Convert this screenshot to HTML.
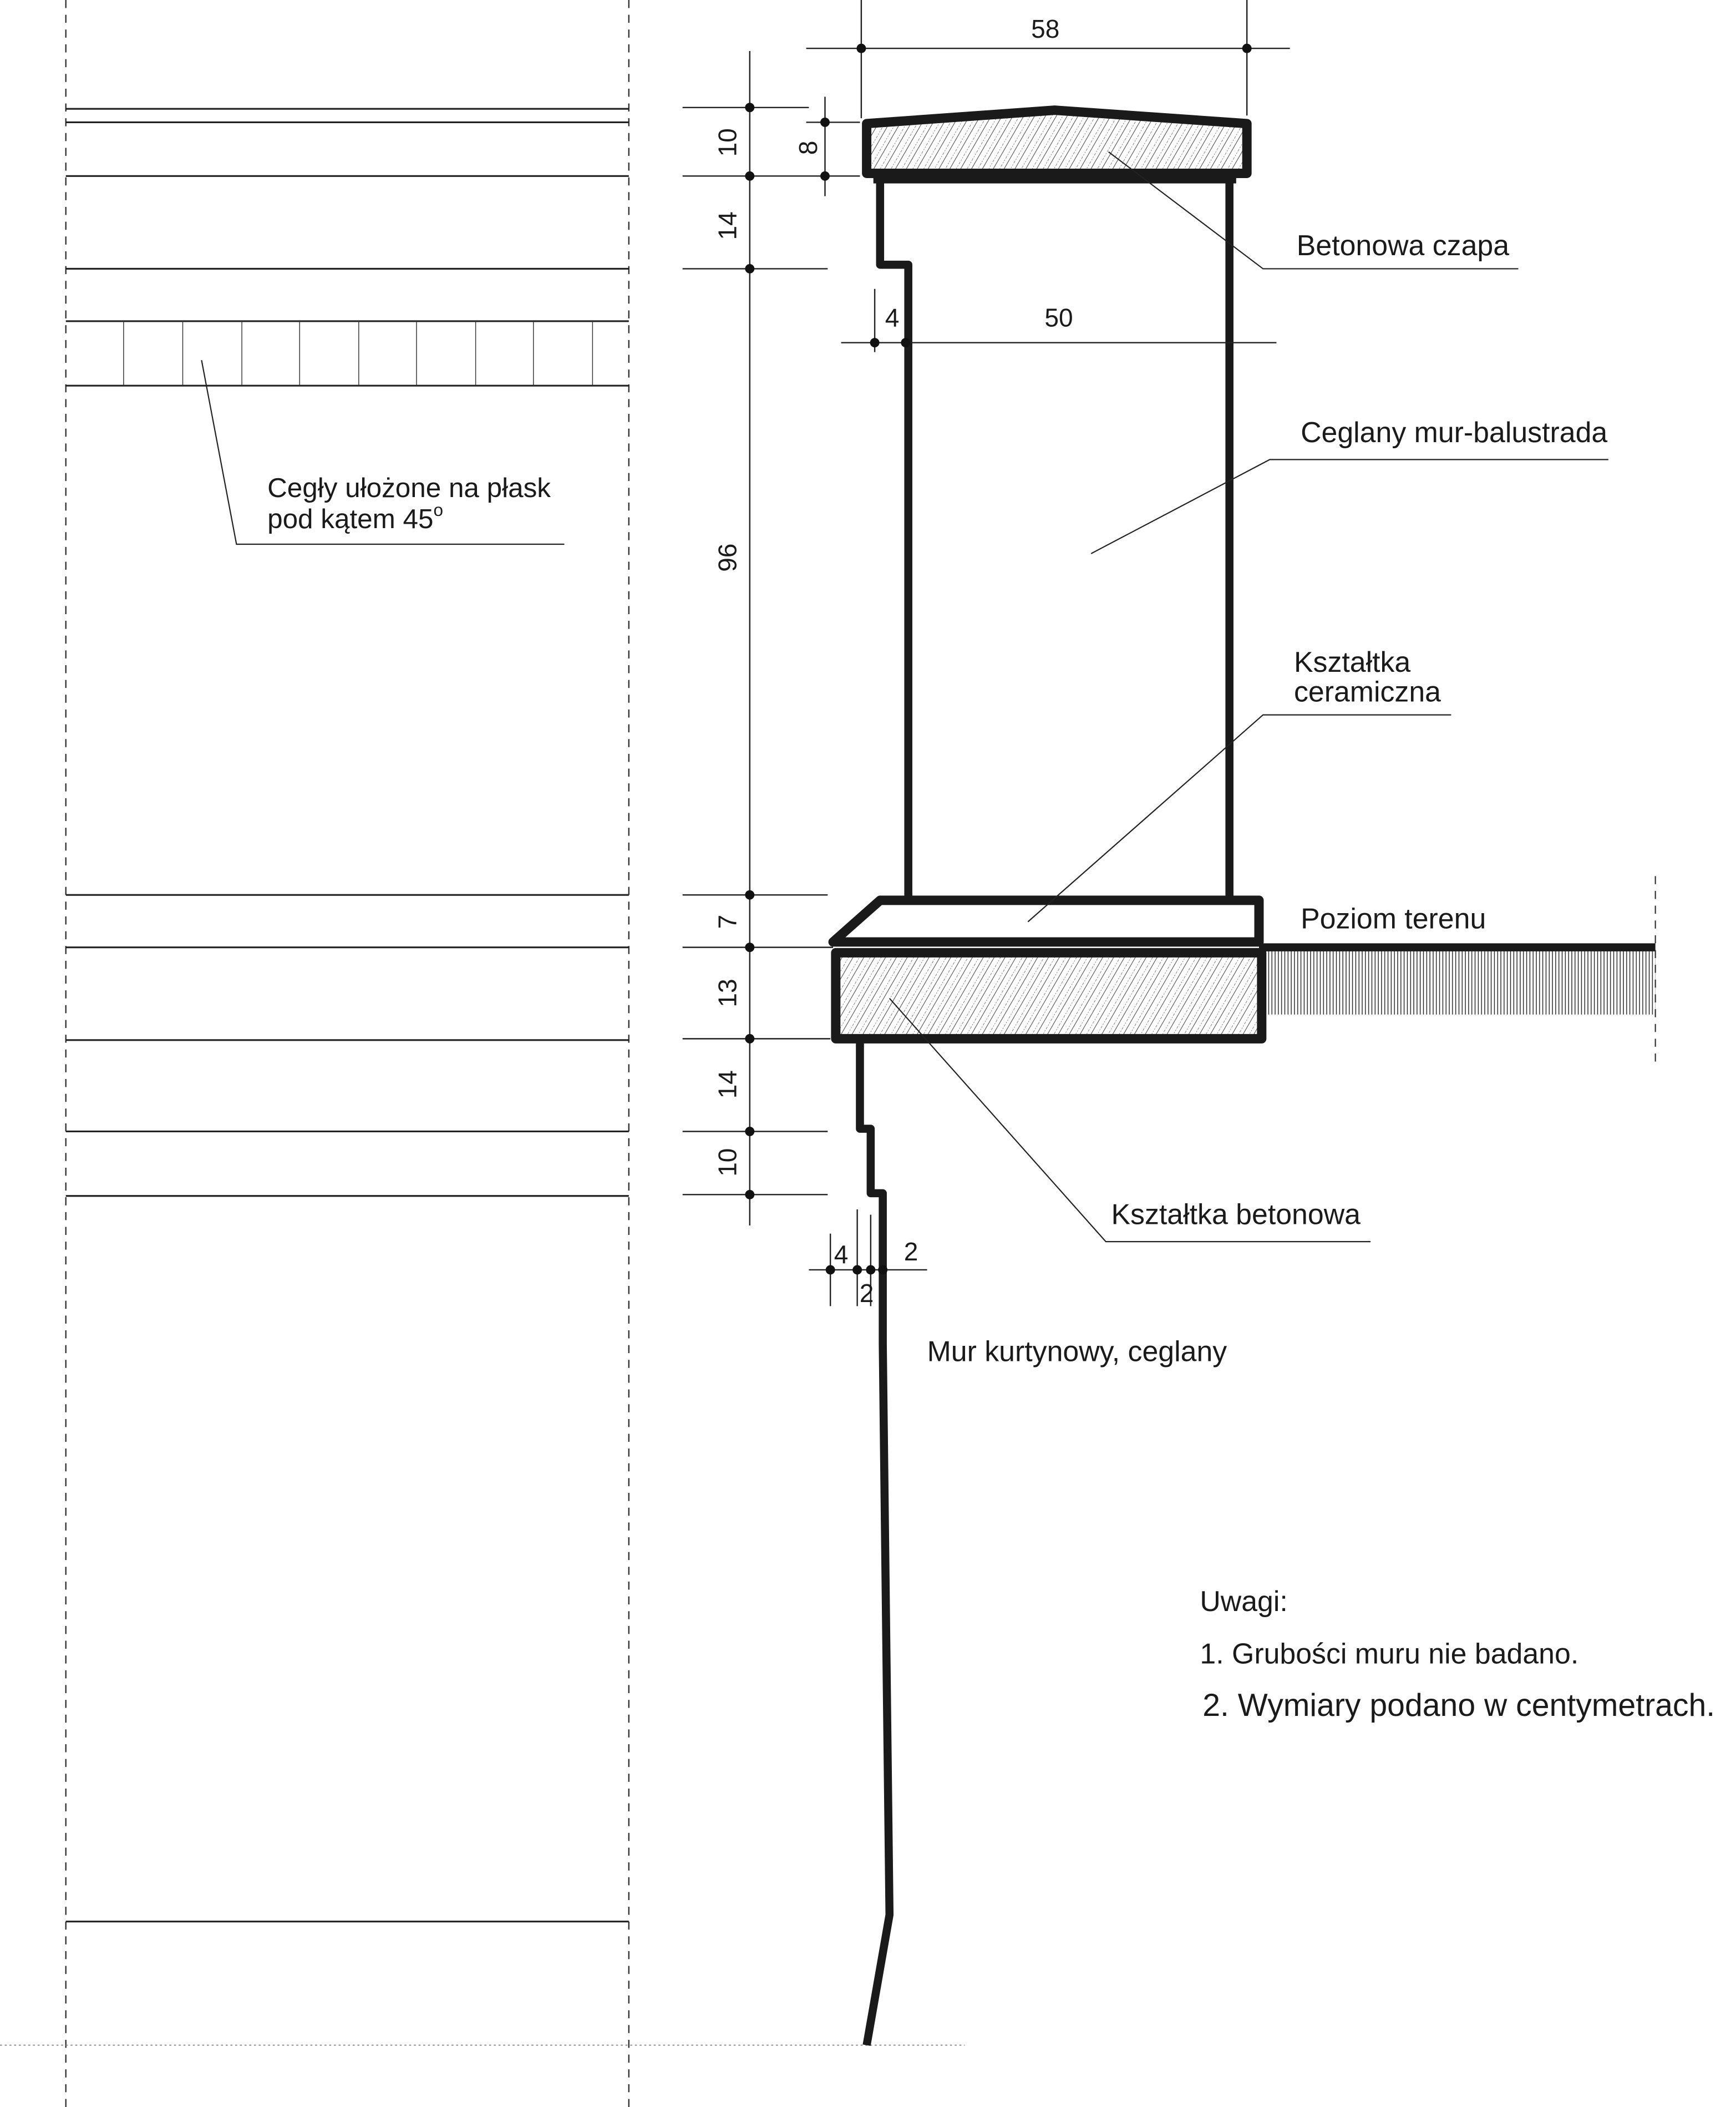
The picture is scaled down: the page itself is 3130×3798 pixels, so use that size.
<!DOCTYPE html>
<html><head><meta charset="utf-8"><style>
html,body{margin:0;padding:0;background:#fff;}
svg{display:block;}
text{font-family:"Liberation Sans",sans-serif;fill:#1a1a1a;}
</style></head><body>
<svg width="3130" height="3798" viewBox="0 0 1292 1568" preserveAspectRatio="none" xmlns="http://www.w3.org/2000/svg">
<defs>
<pattern id="h" width="7" height="7" patternUnits="userSpaceOnUse" patternTransform="rotate(30)">
<line x1="0" y1="0" x2="0" y2="7" stroke="#333" stroke-width="0.5" stroke-dasharray="1,1"/>
<line x1="3" y1="0" x2="3" y2="7" stroke="#333" stroke-width="0.4"/>
</pattern>
<pattern id="g" width="2.4" height="10" patternUnits="userSpaceOnUse">
<line x1="1" y1="0" x2="1" y2="10" stroke="#222" stroke-width="0.6"/>
</pattern>
</defs>
<rect width="1292" height="1568" fill="#fff"/>
<g stroke="#222" stroke-width="0.9" fill="none">
<line x1="49" y1="0" x2="49" y2="1568" stroke-dasharray="6,5"/>
<line x1="468" y1="0" x2="468" y2="1568" stroke-dasharray="6,5"/>
</g>
<g stroke="#222" stroke-width="1.3">
<line x1="49" y1="81" x2="468" y2="81"/>
<line x1="49" y1="91" x2="468" y2="91"/>
<line x1="49" y1="131" x2="468" y2="131"/>
<line x1="49" y1="200" x2="468" y2="200"/>
<line x1="49" y1="239" x2="468" y2="239"/>
<line x1="49" y1="287" x2="468" y2="287"/>
<line x1="49" y1="666" x2="468" y2="666"/>
<line x1="49" y1="705" x2="468" y2="705"/>
<line x1="49" y1="774" x2="468" y2="774"/>
<line x1="49" y1="842" x2="468" y2="842"/>
<line x1="49" y1="890" x2="468" y2="890"/>
<line x1="49" y1="1430" x2="468" y2="1430"/>
</g>
<g stroke="#333" stroke-width="0.6">
<line x1="92" y1="239" x2="92" y2="287"/><line x1="136" y1="239" x2="136" y2="287"/>
<line x1="180" y1="239" x2="180" y2="287"/><line x1="223" y1="239" x2="223" y2="287"/>
<line x1="267" y1="239" x2="267" y2="287"/><line x1="310" y1="239" x2="310" y2="287"/>
<line x1="354" y1="239" x2="354" y2="287"/><line x1="397" y1="239" x2="397" y2="287"/>
<line x1="441" y1="239" x2="441" y2="287"/>
</g>
<polyline points="150,268 176,405 420,405" fill="none" stroke="#222" stroke-width="0.9"/>
<text x="199" y="370" font-size="20.4">Cegły ułożone na płask</text>
<text x="199" y="393" font-size="20.4">pod kątem 45<tspan dy="-9" font-size="13">o</tspan></text>
<line x1="0" y1="1522" x2="718" y2="1522" stroke="#888" stroke-width="0.8" stroke-dasharray="1.5,2"/>

<polygon points="645,92 785,82 928,92 928,129 645,129" fill="url(#h)" stroke="#1a1a1a" stroke-width="7" stroke-linejoin="round"/>
<line x1="650" y1="133" x2="920" y2="133" stroke="#1a1a1a" stroke-width="7"/>
<polyline points="655,133 655,197 676,197 676,669" fill="none" stroke="#1a1a1a" stroke-width="6" stroke-linejoin="round"/>
<line x1="915" y1="133" x2="915" y2="669" stroke="#1a1a1a" stroke-width="6"/>
<polygon points="620,701 655,670 937,670 937,701" fill="#fff" stroke="#1a1a1a" stroke-width="7" stroke-linejoin="round"/>
<rect x="941" y="707" width="291" height="48" fill="url(#g)"/>
<line x1="937" y1="705" x2="1232" y2="705" stroke="#1a1a1a" stroke-width="6"/>
<line x1="1232" y1="652" x2="1232" y2="795" stroke="#333" stroke-width="0.9" stroke-dasharray="6,5"/>
<rect x="622" y="709" width="317" height="64" fill="url(#h)" stroke="#1a1a1a" stroke-width="7" stroke-linejoin="round"/>
<polyline points="640,773 640,840 648,840 648,888 657,888 657,1000 662,1425 645,1522" fill="none" stroke="#1a1a1a" stroke-width="6" stroke-linejoin="round"/>

<g stroke="#222" stroke-width="1">
<line x1="558" y1="38" x2="558" y2="912"/>
<line x1="508" y1="80" x2="602" y2="80"/><line x1="508" y1="131" x2="640" y2="131"/>
<line x1="508" y1="200" x2="616" y2="200"/><line x1="508" y1="666" x2="616" y2="666"/>
<line x1="508" y1="705" x2="620" y2="705"/><line x1="508" y1="773" x2="618" y2="773"/>
<line x1="508" y1="842" x2="616" y2="842"/><line x1="508" y1="889" x2="616" y2="889"/>
<line x1="614" y1="72" x2="614" y2="146"/><line x1="600" y1="91" x2="640" y2="91"/>
<line x1="600" y1="36" x2="960" y2="36"/>
<line x1="641" y1="0" x2="641" y2="88"/><line x1="928" y1="0" x2="928" y2="86"/>
<line x1="626" y1="255" x2="950" y2="255"/><line x1="651" y1="215" x2="651" y2="262"/>
<line x1="602" y1="945" x2="690" y2="945"/>
<line x1="618" y1="918" x2="618" y2="972"/><line x1="638" y1="900" x2="638" y2="972"/>
<line x1="648" y1="904" x2="648" y2="972"/>
</g>
<g fill="#111">
<circle cx="558" cy="80" r="3.5"/><circle cx="558" cy="131" r="3.5"/><circle cx="558" cy="200" r="3.5"/>
<circle cx="558" cy="666" r="3.5"/><circle cx="558" cy="705" r="3.5"/><circle cx="558" cy="773" r="3.5"/>
<circle cx="558" cy="842" r="3.5"/><circle cx="558" cy="889" r="3.5"/>
<circle cx="614" cy="91" r="3.5"/><circle cx="614" cy="131" r="3.5"/>
<circle cx="641" cy="36" r="3.5"/><circle cx="928" cy="36" r="3.5"/>
<circle cx="651" cy="255" r="3.5"/><circle cx="674" cy="255" r="3.5"/>
<circle cx="618" cy="945" r="3.5"/><circle cx="638" cy="945" r="3.5"/><circle cx="648" cy="945" r="3.5"/><circle cx="657" cy="945" r="3.5"/>
</g>
<g font-size="19" text-anchor="middle">
<text transform="translate(548,106) rotate(-90)">10</text>
<text transform="translate(548,168) rotate(-90)">14</text>
<text transform="translate(548,415) rotate(-90)">96</text>
<text transform="translate(548,686) rotate(-90)">7</text>
<text transform="translate(548,739) rotate(-90)">13</text>
<text transform="translate(548,807) rotate(-90)">14</text>
<text transform="translate(548,865) rotate(-90)">10</text>
<text transform="translate(608,110) rotate(-90)">8</text>
<text x="778" y="28">58</text>
<text x="664" y="243">4</text>
<text x="788" y="243">50</text>
<text x="626" y="940">4</text>
<text x="645" y="969">2</text>
<text x="678" y="938">2</text>
</g>

<g fill="none" stroke="#222" stroke-width="0.9">
<polyline points="825,113 940,200 1130,200"/>
<polyline points="812,412 945,342 1197,342"/>
<polyline points="765,686 940,532 1080,532"/>
<polyline points="662,743 823,924 1020,924"/>
</g>
<g font-size="21.4">
<text x="965" y="190">Betonowa czapa</text>
<text x="968" y="329">Ceglany mur-balustrada</text>
<text x="963" y="500">Kształtka</text>
<text x="963" y="522">ceramiczna</text>
<text x="968" y="691">Poziom terenu</text>
<text x="827" y="911">Kształtka betonowa</text>
<text x="690" y="1013">Mur kurtynowy, ceglany</text>
<text x="893" y="1199">Uwagi:</text>
<text x="893" y="1238">1. Grubości muru nie badano.</text>
<text x="895" y="1277" font-size="23.6">2. Wymiary podano w centymetrach.</text>
</g>
</svg>
</body></html>
